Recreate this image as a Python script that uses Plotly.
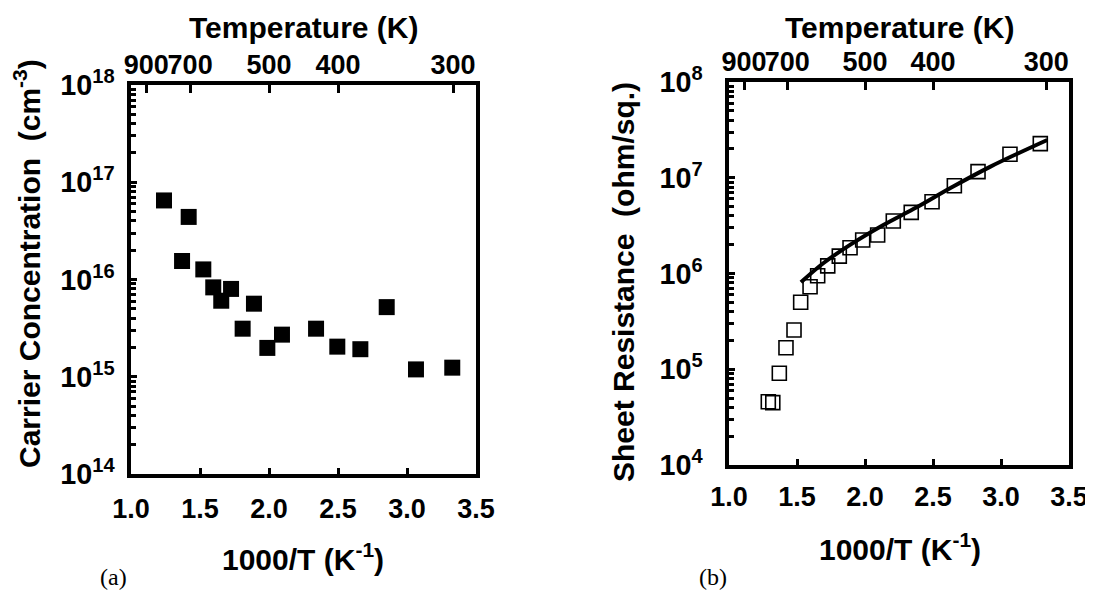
import plotly.graph_objects as go

# ---------------- data ----------------
# (a) carrier concentration vs 1000/T
inv_T_a = [1.239, 1.418, 1.370, 1.524, 1.596, 1.725, 1.654, 1.891, 1.809,
           2.094, 1.988, 2.341, 2.495, 2.662, 2.853, 3.065, 3.328]
carrier_conc = [6.5e16, 4.4e16, 1.55e16, 1.27e16, 8.3e15, 8.0e15, 6.05e15, 5.64e15, 3.12e15,
                2.71e15, 1.98e15, 3.12e15, 2.04e15, 1.92e15, 5.2e15, 1.19e15, 1.24e15]

# (b) sheet resistance vs 1000/T
inv_T_b = [1.289, 1.322, 1.370, 1.419, 1.478, 1.527, 1.596, 1.652, 1.726, 1.811,
           1.890, 1.983, 2.093, 2.208, 2.340, 2.493, 2.657, 2.831, 3.066, 3.289]
sheet_res = [4.58e4, 4.48e4, 9.08e4, 1.68e5, 2.57e5, 5.0e5, 7.28e5, 9.48e5, 1.20e6, 1.52e6,
             1.86e6, 2.24e6, 2.52e6, 3.53e6, 4.35e6, 5.62e6, 8.26e6, 1.16e7, 1.76e7, 2.27e7]

# fitted curve in (b)
fit_x = [1.529, 1.693, 1.890, 2.135, 2.380, 2.625, 2.919, 3.340]
fit_y = [8.1e5, 1.28e6, 1.99e6, 3.21e6, 4.91e6, 7.76e6, 1.30e7, 2.48e7]

# tick labels
temp_ticks_K = [900, 700, 500, 400, 300]
temp_tickvals = [1000.0 / t for t in temp_ticks_K]
temp_ticktext = [str(t) for t in temp_ticks_K]

# ---------------- layout helpers ----------------
# page is 1093x603; the figure sits inside the default 8px body margin
OFF = 8
W, H = 1093 - OFF, 603 - OFF
def px(x):
    return (x - OFF) / W
def py(y):
    return 1 - (y - OFF) / H

FONT = "Liberation Sans, Arial, sans-serif"
tick_font = dict(family=FONT, size=27, color="black", weight="bold")
ylog_font = dict(family=FONT, size=23, color="black", weight="bold")
title_font = dict(family=FONT, size=30, color="black", weight="bold")

fig = go.Figure()

fig.add_trace(go.Scatter(
    x=inv_T_a, y=carrier_conc, mode="markers", xaxis="x", yaxis="y",
    marker=dict(symbol="square", size=16, color="black", line=dict(width=0)),
    showlegend=False, hoverinfo="x+y"))
fig.add_trace(go.Scatter(
    x=[2.0], y=[1e16], mode="markers", xaxis="x2", yaxis="y",
    marker=dict(opacity=0), showlegend=False, hoverinfo="skip"))

fig.add_trace(go.Scatter(
    x=fit_x, y=fit_y, mode="lines", xaxis="x3", yaxis="y2",
    line=dict(color="black", width=4, shape="spline"),
    showlegend=False, hoverinfo="skip"))
fig.add_trace(go.Scatter(
    x=inv_T_b, y=sheet_res, mode="markers", xaxis="x3", yaxis="y2",
    marker=dict(symbol="square-open", size=14, color="black", line=dict(width=1.6, color="black")),
    showlegend=False, hoverinfo="x+y"))
fig.add_trace(go.Scatter(
    x=[2.0], y=[1e6], mode="markers", xaxis="x4", yaxis="y2",
    marker=dict(opacity=0), showlegend=False, hoverinfo="skip"))

LW = 3.5
common_x = dict(range=[1.0, 3.5], tick0=1.0, dtick=0.5, tickformat=".1f",
                ticks="inside", ticklen=6, tickwidth=3, tickcolor="black",
                showline=True, linewidth=LW, linecolor="black", mirror=True,
                showgrid=False, zeroline=False, tickfont=tick_font, tickangle=0,
                automargin=False, ticklabeloverflow="allow")
common_top = dict(range=[1.0, 3.5], tickmode="array", tickvals=temp_tickvals,
                  ticktext=temp_ticktext, side="top", tickangle=0,
                  ticks="inside", ticklen=8, tickwidth=3, tickcolor="black",
                  showline=True, linewidth=LW, linecolor="black",
                  showgrid=False, zeroline=False, tickfont=tick_font,
                  automargin=False, ticklabelstandoff=-4, ticklabeloverflow="allow")
common_y = dict(type="log", dtick=1, exponentformat="power",
                ticks="inside", ticklen=6, tickwidth=3, tickcolor="black",
                minor=dict(ticks="inside", ticklen=5, tickwidth=3, tickcolor="black",
                           dtick="D1", showgrid=False),
                showline=True, linewidth=LW, linecolor="black", mirror=True,
                showgrid=False, zeroline=False, tickfont=ylog_font, automargin=False)

fig.update_layout(
    width=W, height=H, autosize=False, template="none",
    margin=dict(l=0, r=0, t=0, b=0, autoexpand=False),
    paper_bgcolor="white", plot_bgcolor="white",
    xaxis=dict(domain=[px(131), px(476)], anchor="y", ticklabelstandoff=8, **common_x),
    xaxis2=dict(overlaying="x", anchor="y", **common_top),
    yaxis=dict(domain=[py(474), py(85)], anchor="x", range=[14, 18],
               ticklabelstandoff=8, **common_y),
    xaxis3=dict(domain=[px(729), px(1069)], anchor="y2", ticklabelstandoff=5, **common_x),
    xaxis4=dict(overlaying="x3", anchor="y2", **common_top),
    yaxis2=dict(domain=[py(465), py(82)], anchor="x3", range=[4, 8],
                ticklabelstandoff=18, **common_y),
)

annotations = [
    dict(text="Temperature (K)", x=px(303), y=py(28)),
    dict(text="Temperature (K)", x=px(899), y=py(27)),
    dict(text="1000/T (K<sup>-1</sup>)", x=px(303), y=py(557)),
    dict(text="1000/T (K<sup>-1</sup>)", x=px(900), y=py(547)),
    dict(text="Carrier Concentration  (cm<sup>-3</sup>)", x=px(27), y=py(264), textangle=-90),
    dict(text="Sheet Resistance  (ohm/sq.)", x=px(624), y=py(282), textangle=-90),
]
for a in annotations:
    fig.add_annotation(xref="paper", yref="paper", showarrow=False,
                       xanchor="center", yanchor="middle", font=title_font, **a)

for lbl, x in [("(a)", 113), ("(b)", 713)]:
    fig.add_annotation(text=lbl, xref="paper", yref="paper", x=px(x), y=py(577),
                       showarrow=False, xanchor="center", yanchor="middle",
                       font=dict(family="Liberation Serif, DejaVu Serif, serif", size=24, color="black"))

fig.write_html("out.html")
